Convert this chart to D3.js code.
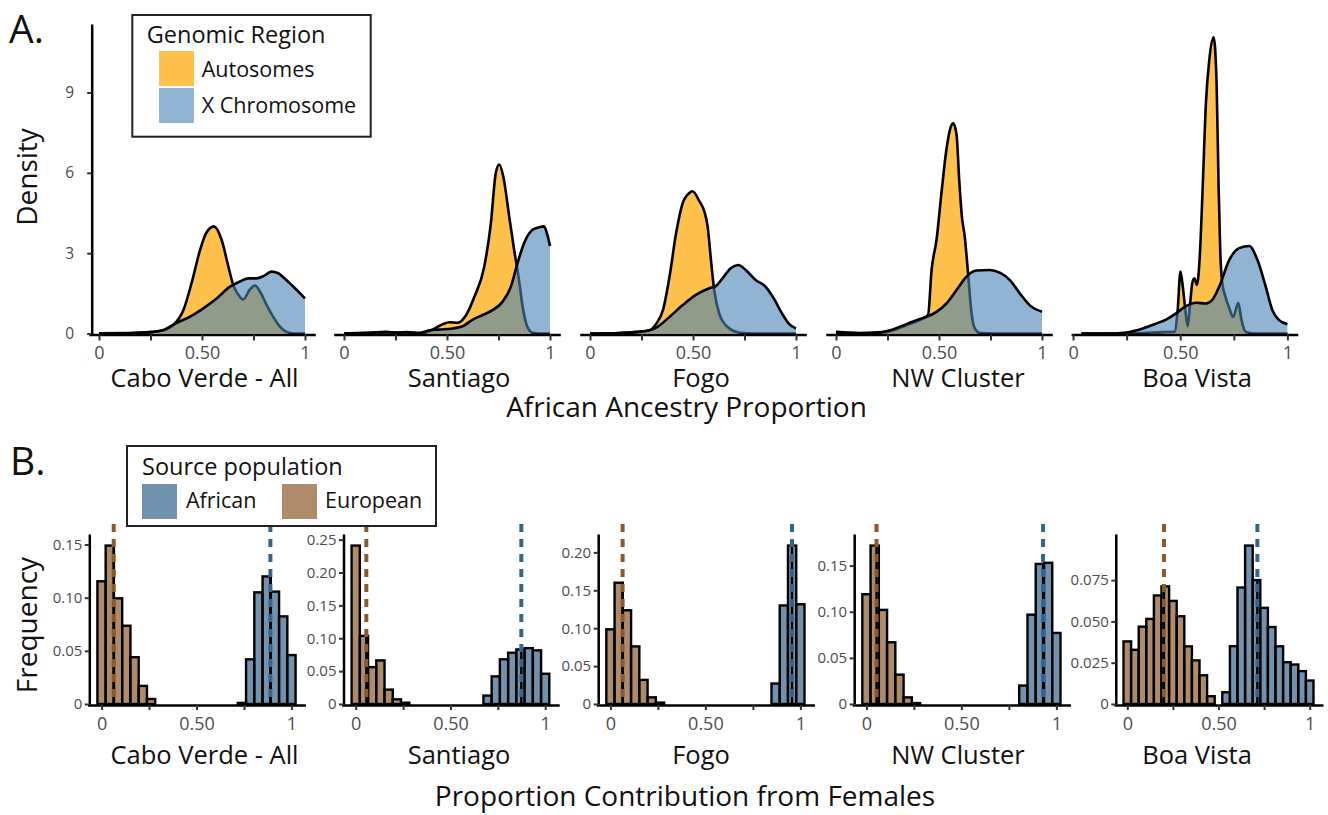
<!DOCTYPE html>
<html><head><meta charset="utf-8">
<script src="https://cdn.jsdelivr.net/npm/d3@7"></script>
<style>
html,body{margin:0;padding:0;background:#fff;}
svg{display:block;font-family:"Open Sans",sans-serif;}
</style></head><body>
<svg id="chart" width="1328" height="815"></svg>
<script>
// ---------------- DATA ----------------
const facets = ["Cabo Verde - All", "Santiago", "Fogo", "NW Cluster", "Boa Vista"];

// Panel A: density curves (x = African ancestry proportion, y = density)
const autoX = [
  [0, 0.1, 0.2, 0.25, 0.31, 0.36, 0.41, 0.45, 0.49, 0.52, 0.558, 0.595, 0.628, 0.652, 0.672, 0.70, 0.733, 0.757, 0.782, 0.814, 0.846, 0.879, 0.911, 0.943, 1.0],
  [0, 0.126, 0.206, 0.254, 0.303, 0.367, 0.432, 0.48, 0.512, 0.552, 0.593, 0.633, 0.681, 0.713, 0.737, 0.754, 0.773, 0.802, 0.826, 0.847, 0.87, 0.89, 0.915, 0.95, 1.0],
  [0, 0.145, 0.225, 0.289, 0.322, 0.354, 0.386, 0.418, 0.45, 0.482, 0.498, 0.531, 0.555, 0.571, 0.587, 0.603, 0.627, 0.667, 0.723, 0.788, 1.0],
  [0, 0.116, 0.246, 0.342, 0.407, 0.447, 0.464, 0.488, 0.512, 0.536, 0.556, 0.569, 0.585, 0.598, 0.611, 0.625, 0.641, 0.658, 0.674, 0.698, 0.843, 1.0],
  [0.039, 0.17, 0.326, 0.419, 0.473, 0.488, 0.501, 0.512, 0.524, 0.535, 0.545, 0.556, 0.566, 0.578, 0.592, 0.605, 0.62, 0.636, 0.656, 0.67, 0.679, 0.687, 0.696, 0.71, 0.729, 0.747, 0.771, 0.786, 0.806, 0.853, 1.0]
];
const autoY = [
  [0.01, 0.01, 0.03, 0.05, 0.12, 0.31, 0.88, 1.9, 3.1, 3.75, 4.0, 3.5, 2.5, 1.8, 1.5, 1.27, 1.65, 1.79, 1.56, 1.06, 0.62, 0.25, 0.06, 0.0, 0.0],
  [0, 0.03, 0.06, 0.03, 0.05, 0.0, 0.15, 0.35, 0.42, 0.4, 0.69, 1.37, 2.5, 4.12, 6.0, 6.31, 5.87, 4.37, 3.12, 2.12, 0.87, 0.25, 0.03, 0, 0],
  [0, 0.02, 0.06, 0.12, 0.37, 0.87, 2.12, 3.75, 4.87, 5.25, 5.31, 4.94, 4.56, 4.0, 2.75, 1.62, 0.75, 0.25, 0.04, 0, 0],
  [0.06, 0.02, 0.06, 0.31, 0.5, 0.7, 2.37, 3.5, 5.25, 6.87, 7.69, 7.85, 7.44, 5.75, 4.37, 3.62, 2.25, 0.75, 0.19, 0.02, 0, 0],
  [0, 0, 0.02, 0.05, 0.06, 0.87, 2.31, 1.75, 0.87, 0.27, 1.0, 1.87, 2.06, 1.81, 3.0, 5.5, 8.62, 10.25, 11.06, 9.25, 5.5, 3.0, 1.9, 1.4, 0.94, 0.62, 1.15, 0.5, 0.06, 0, 0]
];
const xchrX = [
  [0, 0.15, 0.25, 0.31, 0.377, 0.44, 0.506, 0.571, 0.636, 0.684, 0.725, 0.765, 0.8, 0.837, 0.87, 0.9, 0.935, 0.976, 1.0],
  [0, 0.206, 0.367, 0.415, 0.464, 0.528, 0.576, 0.625, 0.673, 0.721, 0.77, 0.81, 0.842, 0.874, 0.915, 0.947, 0.971, 0.987, 1.0],
  [0, 0.145, 0.225, 0.289, 0.322, 0.386, 0.45, 0.514, 0.579, 0.611, 0.643, 0.683, 0.72, 0.756, 0.804, 0.852, 0.892, 0.932, 0.965, 1.0],
  [0, 0.197, 0.262, 0.342, 0.391, 0.439, 0.488, 0.536, 0.585, 0.633, 0.682, 0.746, 0.795, 0.843, 0.892, 0.94, 1.0],
  [0.039, 0.17, 0.248, 0.326, 0.388, 0.434, 0.481, 0.527, 0.574, 0.62, 0.651, 0.682, 0.729, 0.775, 0.822, 0.86, 0.899, 0.93, 0.961, 1.0]
];
const xchrY = [
  [0.01, 0.02, 0.05, 0.12, 0.4, 0.62, 0.94, 1.31, 1.75, 1.94, 2.06, 2.06, 2.15, 2.31, 2.25, 2.06, 1.81, 1.5, 1.31],
  [0, 0.04, 0.03, 0.12, 0.15, 0.19, 0.27, 0.52, 0.69, 0.87, 1.19, 1.75, 2.62, 3.37, 3.87, 3.97, 4.0, 3.69, 3.27],
  [0, 0.02, 0.05, 0.12, 0.22, 0.62, 1.06, 1.44, 1.69, 1.77, 2.06, 2.44, 2.56, 2.37, 2.0, 1.75, 1.31, 0.75, 0.37, 0.19],
  [0, 0.02, 0.12, 0.35, 0.5, 0.62, 0.81, 1.12, 1.62, 2.12, 2.35, 2.37, 2.27, 2.0, 1.5, 1.06, 0.81],
  [0, 0.0, 0.04, 0.19, 0.37, 0.52, 0.75, 1.02, 1.15, 1.12, 1.27, 1.75, 2.75, 3.19, 3.27, 2.75, 1.75, 0.87, 0.5, 0.35]
];
const densityTicks = [0, 3, 6, 9];
const propTicks = [0, 0.25, 0.5, 0.75, 1];
const propTickLabels = ["0", "", "0.50", "", "1"];

// Panel B: histograms (frequency per bin; bins centred on multiples of the bin width)
const binWidth = [1/23, 1/23, 1/23, 1/23, 1/24];
const eurFreq = [
  [0.1154, 0.149, 0.0994, 0.0736, 0.044, 0.017, 0.0047],
  [0.241, 0.1036, 0.0561, 0.0663, 0.0219, 0.0071, 0.002],
  [0.0985, 0.16, 0.1236, 0.076, 0.0318, 0.0088, 0.0018],
  [0.119, 0.1717, 0.102, 0.0669, 0.0318, 0.0072, 0.001],
  [0.0379, 0.0328, 0.0468, 0.0515, 0.0657, 0.0712, 0.0624, 0.0531, 0.0349, 0.0264, 0.0174, 0.0047]
];
const afrFirstBin = [17, 16, 20, 19, 13];
const afrFreq = [
  [0.001, 0.042, 0.105, 0.120, 0.1057, 0.0824, 0.046],
  [0.0128, 0.042, 0.068, 0.078, 0.083, 0.085, 0.0816, 0.046],
  [0.027, 0.130, 0.209, 0.1316],
  [0.02, 0.0968, 0.1518, 0.153, 0.077],
  [0.0071, 0.035, 0.0705, 0.0959, 0.075, 0.0582, 0.0466, 0.0349, 0.0253, 0.0239, 0.0199, 0.0142]
];
const eurMean = [0.064, 0.056, 0.064, 0.053, 0.201];
const afrMean = [0.889, 0.874, 0.956, 0.93, 0.713];
const freqTicks = [
  [0, 0.05, 0.10, 0.15],
  [0, 0.05, 0.10, 0.15, 0.20, 0.25],
  [0, 0.05, 0.10, 0.15, 0.20],
  [0, 0.05, 0.10, 0.15],
  [0, 0.025, 0.05, 0.075]
];
const freqTickLabels = [
  ["0", "0.05", "0.10", "0.15"],
  ["0", "0.05", "0.10", "0.15", "0.20", "0.25"],
  ["0", "0.05", "0.10", "0.15", "0.20"],
  ["0", "0.05", "0.10", "0.15"],
  ["0", "0.025", "0.050", "0.075"]
];

// ---------------- LAYOUT / STYLE ----------------
const svg = d3.select("#chart");
const TICK_GRAY = "#4d4d4d";
const labelCx = [204.5, 459, 701, 958, 1197];

function styleAxis(ax, fontSize) {
  ax.attr("font-family", null).attr("font-size", null);
  ax.select(".domain").attr("stroke", "#000").attr("stroke-width", 2.5);
  ax.selectAll(".tick line").attr("stroke", "#333").attr("stroke-width", 2);
  ax.selectAll(".tick text").attr("fill", TICK_GRAY)
    .style("font-family", "'Open Sans', sans-serif").style("font-size", fontSize + "px");
  ax.selectAll(".tick text").filter(function() { return this.textContent === ""; }).remove();
}

// ---------- Panel A ----------
const topLeft = [88.7, 333.7, 579.7, 825.7, 1071.1], topW = 226.6;
const densMax = d3.max(autoY.concat(xchrY).flat());
const yD = d3.scaleLinear().domain([0, densMax * 1.045]).range([333.5, 24]);

facets.forEach((f, i) => {
  const ext = d3.extent(autoX[i].concat(xchrX[i]));
  const pad = (ext[1] - ext[0]) * 0.05;
  const x = d3.scaleLinear().domain([ext[0] - pad, ext[1] + pad]).range([topLeft[i], topLeft[i] + topW]);
  const g = svg.append("g");
  const series = [
    {xs: autoX[i], ys: autoY[i], fill: "orange", op: 0.7},
    {xs: xchrX[i], ys: xchrY[i], fill: "steelblue", op: 0.6}
  ];
  series.forEach(s => {
    const pts = s.xs.map((v, j) => [v, s.ys[j]]);
    const area = d3.area().x(d => x(d[0])).y0(yD(0)).y1(d => yD(d[1])).curve(d3.curveMonotoneX);
    const line = d3.line().x(d => x(d[0])).y(d => yD(d[1])).curve(d3.curveMonotoneX);
    g.append("path").attr("d", area(pts)).attr("fill", s.fill).attr("fill-opacity", s.op);
    g.append("path").attr("d", line(pts)).attr("fill", "none").attr("stroke", "#000")
      .attr("stroke-width", 2.6).attr("stroke-linejoin", "round");
  });
  const ax = g.append("g").attr("transform", `translate(0,${yD(0) + 1})`)
    .call(d3.axisBottom(x).tickValues(propTicks).tickFormat((d, k) => propTickLabels[k]).tickSize(6).tickSizeOuter(0));
  styleAxis(ax, 18);
  ax.selectAll(".tick text").attr("y", 11.5).attr("dy", "0.71em");
  g.append("text").attr("x", labelCx[i]).attr("y", 386.5).attr("text-anchor", "middle")
    .style("font-size", "25.5px").attr("fill", "#111").text(f);
});
const yAxTop = svg.append("g").attr("transform", "translate(91.7,0)")
  .call(d3.axisLeft(yD).tickValues(densityTicks).tickSize(4.5).tickPadding(13).tickSizeOuter(0));
styleAxis(yAxTop, 15.5);

svg.append("text").attr("transform", "translate(37,177) rotate(-90)").attr("text-anchor", "middle")
  .style("font-size", "28px").attr("fill", "#111").text("Density");
svg.append("text").attr("x", 686.5).attr("y", 417).attr("text-anchor", "middle")
  .style("font-size", "28px").attr("fill", "#111").text("African Ancestry Proportion");
svg.append("text").attr("x", 9).attr("y", 42.5).style("font-size", "39px").attr("fill", "#111").text("A.");

// legend A
const lgA = svg.append("g");
lgA.append("rect").attr("x", 132.3).attr("y", 15).attr("width", 238.4).attr("height", 121.7)
  .attr("fill", "#fff").attr("stroke", "#222").attr("stroke-width", 2);
lgA.append("text").attr("x", 146.7).attr("y", 43.3).style("font-size", "23.5px").attr("fill", "#111").text("Genomic Region");
[["Autosomes", "orange", 0.7], ["X Chromosome", "steelblue", 0.6]].forEach((d, k) => {
  lgA.append("rect").attr("x", 159).attr("y", 51 + k * 37).attr("width", 35).attr("height", 35)
    .attr("fill", d[1]).attr("fill-opacity", d[2]);
  lgA.append("text").attr("x", 201.7).attr("y", 76.7 + k * 36.6).style("font-size", "21.5px").attr("fill", "#111").text(d[0]);
});

// ---------- Panel B ----------
const botLeft = [87.5, 341.7, 596.4, 852.4, 1114], botW = [218, 217.5, 218, 218, 209];
const EUR = "#8B5A2B", AFR = "#36648B";

facets.forEach((f, i) => {
  const w = binWidth[i];
  const eurBins = eurFreq[i].map((v, k) => ({k, c: k * w, v}));
  const afrBins = afrFreq[i].map((v, k) => ({k: afrFirstBin[i] + k, c: (afrFirstBin[i] + k) * w, v}));
  const lo = d3.min(eurBins.concat(afrBins), d => d.c) - w / 2;
  const hi = d3.max(eurBins.concat(afrBins), d => d.c) + w / 2;
  const pad = (hi - lo) * 0.05;
  const x = d3.scaleLinear().domain([lo - pad, hi + pad]).range([botLeft[i], botLeft[i] + botW[i]]);
  const ymax = d3.max(eurFreq[i].concat(afrFreq[i]));
  const y = d3.scaleLinear().domain([0, ymax * 1.073]).range([704, 534]);
  const g = svg.append("g");
  [[eurBins, EUR], [afrBins, AFR]].forEach(([bins, col]) => {
    g.selectAll(null).data(bins).join("rect")
      .attr("x", d => x(d.c - w / 2)).attr("width", d => x(d.c + w / 2) - x(d.c - w / 2))
      .attr("y", d => y(d.v)).attr("height", d => y(0) - y(d.v))
      .attr("fill", col).attr("fill-opacity", 0.7).attr("stroke", "#000").attr("stroke-width", 2.4);
  });
  [[eurMean[i], eurBins, EUR], [afrMean[i], afrBins, AFR]].forEach(([m, bins, col]) => {
    const kb = Math.round(m / w);
    const bin = bins.find(b => b.k === kb);
    const h = bin ? bin.v : 0;
    g.append("line").attr("x1", x(m)).attr("x2", x(m)).attr("y1", y(0)).attr("y2", y(h))
      .attr("stroke", "#000").attr("stroke-width", 2.4);
    g.append("line").attr("x1", x(m)).attr("x2", x(m)).attr("y1", y.range()[1] - 10).attr("y2", y(0))
      .attr("stroke", col).attr("stroke-width", 4).attr("stroke-dasharray", "8,7");
  });
  const ax = g.append("g").attr("transform", "translate(0,705)")
    .call(d3.axisBottom(x).tickValues(propTicks).tickFormat((d, k) => propTickLabels[k]).tickSize(5).tickSizeOuter(0));
  styleAxis(ax, 18);
  ax.selectAll(".tick text").attr("y", 12).attr("dy", "0.71em");
  const ay = g.append("g").attr("transform", `translate(${botLeft[i] + 1.8},0)`)
    .call(d3.axisLeft(y).tickValues(freqTicks[i]).tickFormat((d, k) => freqTickLabels[i][k]).tickSize(4.5).tickPadding(2.5).tickSizeOuter(0));
  styleAxis(ay, 15);
  g.append("text").attr("x", labelCx[i]).attr("y", 764).attr("text-anchor", "middle")
    .style("font-size", "25.5px").attr("fill", "#111").text(f);
});

svg.append("text").attr("transform", "translate(37,625) rotate(-90)").attr("text-anchor", "middle")
  .style("font-size", "28px").attr("fill", "#111").text("Frequency");
svg.append("text").attr("x", 685).attr("y", 806).attr("text-anchor", "middle")
  .style("font-size", "28px").attr("fill", "#111").text("Proportion Contribution from Females");
svg.append("text").attr("x", 10).attr("y", 475).style("font-size", "39px").attr("fill", "#111").text("B.");

// legend B
const lgB = svg.append("g");
lgB.append("rect").attr("x", 127).attr("y", 446).attr("width", 309).attr("height", 80)
  .attr("fill", "#fff").attr("stroke", "#222").attr("stroke-width", 2);
lgB.append("text").attr("x", 142).attr("y", 475).style("font-size", "23.5px").attr("fill", "#111").text("Source population");
[["African", AFR, 142, 186], ["European", EUR, 282, 325]].forEach(d => {
  lgB.append("rect").attr("x", d[2]).attr("y", 484).attr("width", 35).attr("height", 35)
    .attr("fill", d[1]).attr("fill-opacity", 0.7);
  lgB.append("text").attr("x", d[3]).attr("y", 508).style("font-size", "21.5px").attr("fill", "#111").text(d[0]);
});
</script></body></html>
